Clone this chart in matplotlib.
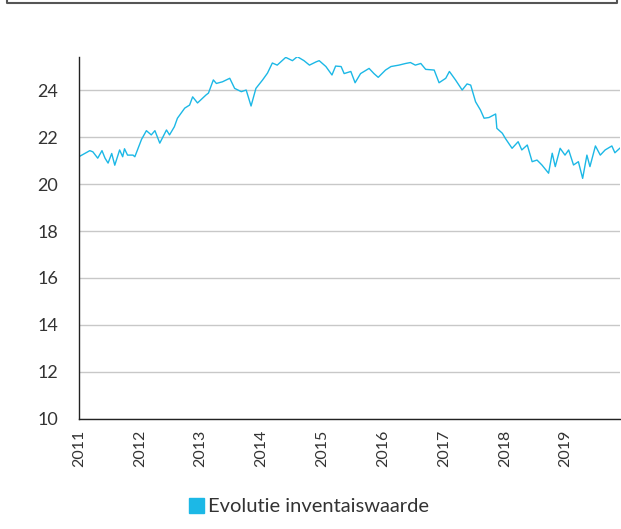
import matplotlib
matplotlib.use("Agg")
import matplotlib.pyplot as plt
from matplotlib.lines import Line2D
from matplotlib.patches import Patch

# tijdstippen (decimale jaren) en inventaiswaarde
jaren = [2011.00, 2011.18, 2011.23, 2011.31, 2011.38, 2011.43, 2011.48, 2011.54, 2011.59,
         2011.67, 2011.72, 2011.75, 2011.80, 2011.89, 2011.92, 2012.03, 2012.11, 2012.19,
         2012.25, 2012.33, 2012.44, 2012.49, 2012.57, 2012.62, 2012.74, 2012.82, 2012.87,
         2012.95, 2013.09, 2013.13, 2013.21, 2013.26, 2013.36, 2013.48, 2013.56, 2013.67,
         2013.75, 2013.83, 2013.91, 2014.02, 2014.10, 2014.18, 2014.26, 2014.40, 2014.51,
         2014.59, 2014.70, 2014.79, 2014.90, 2014.95, 2015.06, 2015.16, 2015.22, 2015.31,
         2015.36, 2015.47, 2015.54, 2015.63, 2015.77, 2015.85, 2015.92, 2016.04, 2016.13,
         2016.26, 2016.37, 2016.45, 2016.53, 2016.62, 2016.70, 2016.84, 2016.92, 2017.03,
         2017.09, 2017.19, 2017.30, 2017.38, 2017.44, 2017.52, 2017.60, 2017.66, 2017.74,
         2017.85, 2017.87, 2017.96, 2018.01, 2018.12, 2018.22, 2018.28, 2018.37, 2018.45,
         2018.53, 2018.61, 2018.72, 2018.78, 2018.83, 2018.91, 2018.99, 2019.05, 2019.13,
         2019.21, 2019.28, 2019.35, 2019.40, 2019.49, 2019.57, 2019.65, 2019.76, 2019.81,
         2019.89]
waarde = [21.16, 21.42, 21.37, 21.10, 21.42, 21.10, 20.89, 21.30, 20.80,
          21.45, 21.16, 21.50, 21.23, 21.23, 21.16, 21.90, 22.27, 22.09,
          22.27, 21.74, 22.30, 22.09, 22.44, 22.80, 23.23, 23.36, 23.71,
          23.45, 23.79, 23.87, 24.43, 24.28, 24.35, 24.50, 24.07, 23.93,
          24.00, 23.32, 24.07, 24.43, 24.72, 25.15, 25.06, 25.39, 25.25,
          25.42, 25.25, 25.06, 25.20, 25.25, 25.00, 24.64, 25.02, 25.00,
          24.70, 24.79, 24.31, 24.70, 24.92, 24.70, 24.54, 24.85, 25.00,
          25.06, 25.13, 25.17, 25.06, 25.13, 24.88, 24.85, 24.31, 24.50,
          24.79, 24.43, 24.00, 24.26, 24.21, 23.50, 23.15, 22.80, 22.83,
          22.98, 22.37, 22.16, 21.94, 21.52, 21.80, 21.45, 21.66, 20.95,
          21.02, 20.81, 20.46, 21.31, 20.74, 21.52, 21.23, 21.45, 20.81,
          20.95, 20.24, 21.23, 20.74, 21.62, 21.23, 21.45, 21.62, 21.33,
          21.52]

jaar_labels = [2011, 2012, 2013, 2014, 2015, 2016, 2017, 2018, 2019]
y_ticks = [10, 12, 14, 16, 18, 20, 22, 24]

plt.rcParams["font.family"] = ["Lato", "DejaVu Sans"]

fig = plt.figure(figsize=(6.21, 5.29), dpi=100)
ax = fig.add_axes([0.127, 0.208, 0.871, 0.684])

kleur = "#1cb8e6"
ax.plot(jaren, waarde, color=kleur, lw=1.0)

ax.set_xlim(2011, 2019.89)
ax.set_ylim(10, 25.4)
ax.set_yticks(y_ticks)
ax.set_xticks(jaar_labels)
ax.set_xticklabels([str(j) for j in jaar_labels], rotation=90)
ax.tick_params(length=0, labelsize=11.5, colors="#333333", pad=8)
ax.tick_params(axis="y", labelsize=13, pad=15)

ax.grid(axis="y", color="#c8c8c8", lw=1)
ax.set_axisbelow(True)
for s in ["top", "right"]:
    ax.spines[s].set_visible(False)
for s in ["left", "bottom"]:
    ax.spines[s].set_color("#222222")
    ax.spines[s].set_linewidth(1)

leg = fig.legend(handles=[Patch(color=kleur, label="Evolutie inventaiswaarde")],
                 loc="center", bbox_to_anchor=(0.497, 0.042), frameon=False,
                 fontsize=14.5, handlelength=0.75, handleheight=0.75, handletextpad=0.2)
for t in leg.get_texts():
    t.set_color("#333333")

# rand van het kader erboven
fig.add_artist(Line2D([7 / 621, 7 / 621, 617 / 621, 617 / 621],
                      [1.0, 1 - 3 / 529, 1 - 3 / 529, 1.0],
                      transform=fig.transFigure, color="#555555", lw=1.5))

fig.savefig("out.png", dpi=100)
